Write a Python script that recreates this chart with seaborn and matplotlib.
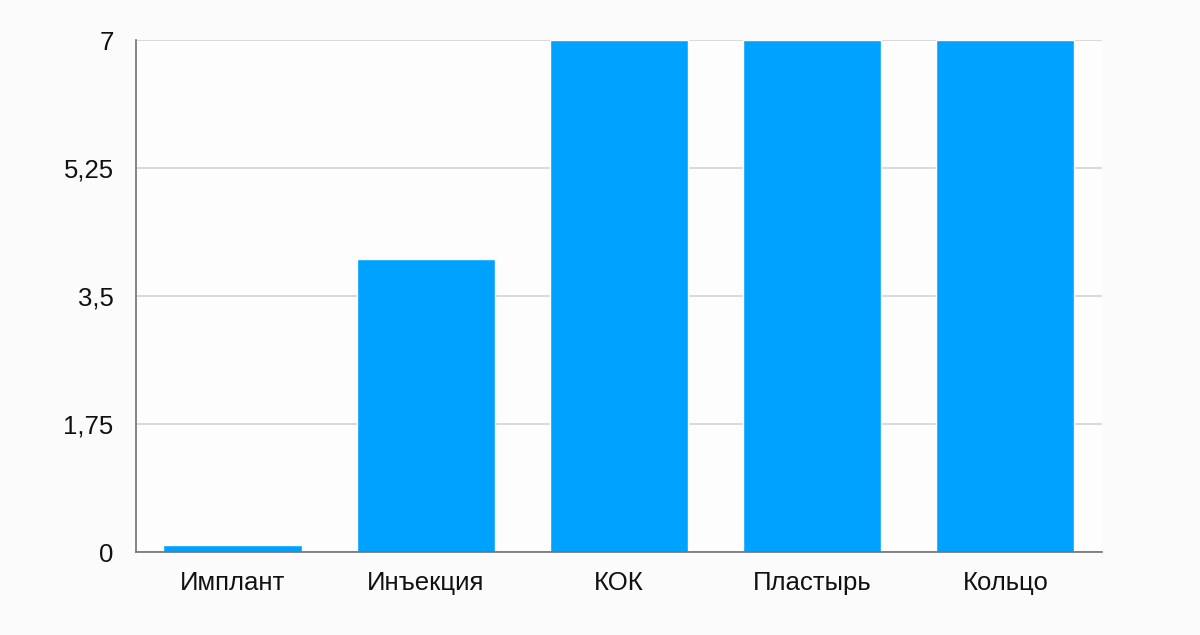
import matplotlib
matplotlib.use("Agg")
import matplotlib.pyplot as plt
import seaborn as sns
import pandas as pd
from matplotlib.ticker import FixedLocator, FuncFormatter

methods = ["Имплант", "Инъекция", "КОК", "Пластырь", "Кольцо"]
values = [0.1, 4.0, 7.0, 7.0, 7.0]
y_ticks = [0, 1.75, 3.5, 5.25, 7]

df = pd.DataFrame({"method": methods, "value": values})

sns.set_style("white")
plt.rcParams["font.family"] = ["Liberation Sans", "DejaVu Sans"]

fig = plt.figure(figsize=(12, 6.35), dpi=100, facecolor="#fbfbfb")
ax = fig.add_axes([0.1133, 0.1307, 0.805, 0.8063])
ax.set_facecolor("#fdfdfd")

sns.barplot(data=df, x="method", y="value", color="#00a2ff", saturation=1,
            width=0.715, ax=ax, zorder=3)

ax.set_ylim(0, 7)
ax.set_xlim(-0.5, 4.5)
ax.yaxis.set_major_locator(FixedLocator(y_ticks))
ax.yaxis.set_major_formatter(FuncFormatter(lambda v, p: f"{v:g}".replace(".", ",")))
ax.grid(axis="y", color="#d4d4d4", linewidth=1.2, zorder=0)
ax.set_axisbelow(True)

for side in ["top", "right"]:
    ax.spines[side].set_visible(False)
for side in ["left", "bottom"]:
    ax.spines[side].set_color("#707070")
    ax.spines[side].set_linewidth(1.2)
    ax.spines[side].set_zorder(4)

ax.tick_params(axis="y", length=0, pad=16, labelsize=18.5, labelcolor="#111111")
ax.tick_params(axis="x", length=0, pad=14, labelsize=18.5, labelcolor="#111111")
ax.set_xlabel("")
ax.set_ylabel("")

fig.savefig("out.png", dpi=100, facecolor=fig.get_facecolor())
